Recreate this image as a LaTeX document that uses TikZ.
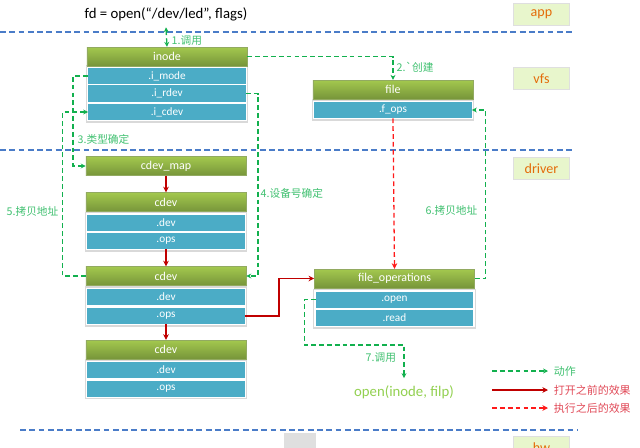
\documentclass[tikz,border=0pt]{standalone}
\usepackage{fontspec}
\setmainfont{Carlito}
\newfontfamily\cjk{Noto Sans CJK SC}
\usetikzlibrary{arrows.meta,fit,backgrounds}
\definecolor{tierblue}{HTML}{4A7CC8}
\definecolor{hdrtop}{HTML}{A3C84E}
\definecolor{hdrbot}{HTML}{77953A}
\definecolor{fieldblue}{HTML}{4BACC6}
\definecolor{actgreen}{HTML}{12B04E}
\definecolor{lblgreen}{HTML}{40C070}
\definecolor{befred}{HTML}{C00000}
\definecolor{aftred}{HTML}{FF1A1A}
\definecolor{legred}{HTML}{E04856}
\definecolor{callgreen}{HTML}{92D050}
\definecolor{tagfill}{HTML}{E8F6CC}
\definecolor{tagtext}{HTML}{E46C0A}
\begin{document}
\begin{tikzpicture}[
    x=0.025cm, y=-0.025cm,
    header/.style={
        rectangle,
        minimum width=4cm,
        minimum height=0.47cm,
        inner sep=0pt,
        top color=hdrtop,
        bottom color=hdrbot,
        draw=hdrbot!80,
        text=white,
        font=\fontsize{8.5}{10}\selectfont
    },
    field/.style={
        rectangle,
        minimum width=3.93cm,
        minimum height=0.4cm,
        inner sep=0pt,
        fill=fieldblue,
        text=white,
        font=\fontsize{8}{9}\selectfont
    },
    panel/.style={
        rectangle,
        inner sep=1.2pt,
        fill=white,
        draw=gray!30,
        line width=0.8pt
    },
    tag/.style={
        rectangle,
        minimum width=1.42cm,
        minimum height=0.57cm,
        fill=tagfill,
        draw=gray!25,
        line width=0.8pt,
        text=tagtext,
        font=\fontsize{10}{12}\selectfont
    },
    tier/.style={
        draw=tierblue,
        line width=1pt,
        dash pattern=on 4.2pt off 2.4pt
    },
    act/.style={
        draw=actgreen,
        line width=0.9pt,
        dash pattern=on 3.4pt off 2.2pt,
        -{Stealth[length=3.5pt,width=3.5pt]}
    },
    before/.style={
        draw=befred,
        line width=0.9pt,
        -{Stealth[length=4pt,width=4pt]}
    },
    after/.style={
        draw=aftred,
        line width=0.9pt,
        dash pattern=on 3.4pt off 2.2pt,
        -{Stealth[length=4pt,width=4pt]}
    },
    step label/.style={
        text=lblgreen,
        inner sep=1pt,
        font=\cjk\fontsize{7.6}{9}\selectfont
    }
]
\useasboundingbox (0,0) rectangle (640,448);
\clip (0,0) rectangle (640,448);

% Layers
\draw[tier] (0,32) -- (575,32);
\draw[tier] (0,150) -- (575,150);
\draw[tier] (20,430) -- (577,430);
\node[tag] (app) at (541.5,14.5) {app};
\node[tag] (vfs) at (541.5,78.5) {vfs};
\node[tag] (drv) at (541.5,168.5) {driver};
\node[tag] (hw) at (541.5,447.5) {hw};
\node[fill=gray!25, minimum width=0.8cm, minimum height=0.6cm, inner sep=0pt] (gap) at (300,445) {};

% User call
\node[font=\fontsize{10.5}{12}\selectfont, inner sep=1pt] (fd) at (166,14) {fd = open(“/dev/led”, flags)};

% inode
\node[header] (inode) at (167,56.5) {inode};
\node[field] (imode) at (167,76) {.i\_mode};
\node[field] (irdev) at (167,93.5) {.i\_rdev};
\node[field] (icdev) at (167,112) {.i\_cdev};

% file
\node[header] (file) at (393,89.5) {file};
\node[field] (fops) at (393,110) {.f\_ops};

% cdev chain
\node[header] (cdevmap) at (166,166) {cdev\_map};
\node[header] (cdevA) at (166,202) {cdev};
\node[field] (devA) at (166,222.5) {.dev};
\node[field] (opsA) at (166,241) {.ops};
\node[header] (cdevB) at (166,276) {cdev};
\node[field] (devB) at (166,297) {.dev};
\node[field] (opsB) at (166,316) {.ops};
\node[header] (cdevC) at (166,349.5) {cdev};
\node[field] (devC) at (166,370) {.dev};
\node[field] (opsC) at (166,388.5) {.ops};

% file_operations
\node[header] (fileops) at (394.5,278.5) {file\_operations};
\node[field] (fopen) at (394.5,299.5) {.open};
\node[field] (fread) at (394.5,318) {.read};

\begin{scope}[on background layer]
\node[panel, fit=(imode)(icdev)] (inodepanel) {};
\node[panel, fit=(fops)] (filepanel) {};
\node[panel, fit=(devA)(opsA)] (cdevApanel) {};
\node[panel, fit=(devB)(opsB)] (cdevBpanel) {};
\node[panel, fit=(devC)(opsC)] (cdevCpanel) {};
\node[panel, fit=(fopen)(fread)] (fopspanel) {};
\end{scope}

% Driver open
\node[text=callgreen, font=\fontsize{10.5}{12}\selectfont, inner sep=1pt] (call) at (404,392) {open(inode, filp)};

% Steps
\draw[act, {Stealth[length=3.5pt,width=3.5pt]}-{Stealth[length=3.5pt,width=3.5pt]}] (fd.south) ++(0,5) -- (inode.north);
\node[step label, anchor=west] (s1) at (170,41) {1.调用};
\draw[act] (inode.east) -| (file.north);
\node[step label, anchor=west] (s2) at (395,67) {2.`创建};
\draw[act] (imode.west) -- ++(-15,0) |- (cdevmap.west);
\node[step label, anchor=west] (s3) at (76,139) {3.类型确定};
\draw[act] (irdev.east) -- ++(12,0) |- (cdevB.east);
\node[step label, anchor=west] (s4) at (259,193) {4.设备号确定};
\draw[act] (cdevB.west) -- ++(-23,0) |- (icdev.west);
\node[step label, anchor=west] (s5) at (5,211) {5.拷贝地址};
\draw[act] (fileops.east) -- ++(11,0) |- (fops.east);
\node[step label, anchor=west] (s6) at (424,210) {6.拷贝地址};
\draw[act] (fopen.west) -- ++(-11,0) -- ++(0,45.5) -| ([yshift=4pt]call.north);
\node[step label, anchor=west] (s7) at (364,358) {7.调用};

% Effects
\draw[before] (cdevmap.south) -- (cdevA.north);
\draw[before] (opsA.south) -- (cdevB.north);
\draw[before] (opsB.south) -- (cdevC.north);
\draw[before] (opsB.east) -- ++(34,0) |- (fileops.west);
\draw[after] (fops.south) -- (fileops.north);

% Legend
\coordinate (legA) at (492,371);
\coordinate (legB) at (492,390);
\coordinate (legC) at (492,408);
\draw[act] (legA) -- ++(56,0) coordinate (legAend);
\draw[before] (legB) -- ++(56,0) coordinate (legBend);
\draw[after] (legC) -- ++(56,0) coordinate (legCend);
\node[step label, anchor=west, font=\cjk\fontsize{7.8}{9}\selectfont] (legAtxt) at ([xshift=3]legAend) {动作};
\node[step label, anchor=west, text=legred, font=\cjk\fontsize{7.8}{9}\selectfont] (legBtxt) at ([xshift=3]legBend) {打开之前的效果};
\node[step label, anchor=west, text=legred, font=\cjk\fontsize{7.8}{9}\selectfont] (legCtxt) at ([xshift=3]legCend) {执行之后的效果};

\end{tikzpicture}
\end{document}
